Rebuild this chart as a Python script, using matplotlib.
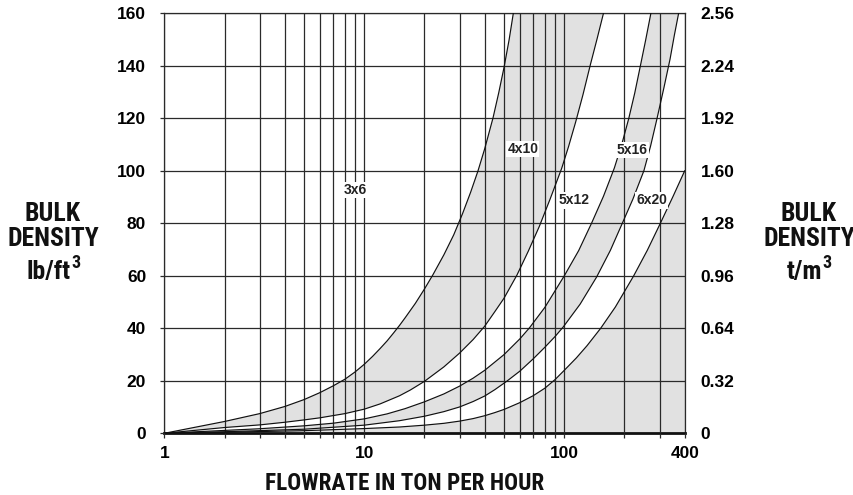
import matplotlib
matplotlib.use("Agg")
import matplotlib.pyplot as plt
import matplotlib.font_manager as fm
from matplotlib.ticker import FixedLocator, NullFormatter

# ---------------- data ----------------
c36_x = [1, 2, 3, 4, 5, 6, 7, 8, 9, 10, 11, 12, 13, 14, 15, 16, 18, 20, 22, 25,
         28, 31, 34, 37, 40, 44, 47, 50, 53, 55.6]
c36_y = [0, 4.5, 7.5, 10.2, 12.85, 15.5, 18.1, 20.6, 23.4, 26.3, 29.3, 32.3, 35.2,
         38.2, 41.1, 44, 49.5, 55, 60.3, 68, 75.6, 83.7, 91.8, 99.9, 108.4, 120.1,
         129.7, 139.5, 150, 160]

c410_x = [1, 2, 3, 4, 5, 6, 8, 10, 12, 15, 17, 20, 25, 30, 35, 40, 45, 50, 58, 66,
          75, 85, 97, 105, 114, 124, 135, 146, 157]
c410_y = [0, 2.2, 3.2, 4.2, 5.1, 5.9, 7.5, 9.2, 11.2, 14.3, 16.5, 19.8, 25.3, 30.6,
          35.7, 40.8, 46.4, 51.5, 60.3, 69.3, 78.8, 89.3, 100.9, 109.2, 118.6, 129,
          140.4, 150.4, 160]

c512_x = [1, 2, 3, 5, 7, 10, 13, 16, 20, 25, 30, 35, 40, 50, 60, 67, 80, 100, 118,
          137, 157, 178, 194, 210, 225, 240, 255, 271]
c512_y = [0, 1.1, 1.74, 2.85, 3.85, 5.5, 7.4, 9.4, 12, 15, 18, 21, 24, 30, 36, 40.2,
          48, 60, 69.6, 80.1, 90.3, 101.1, 110.2, 119.9, 129.6, 139.9, 149.7, 160]

c516_x = [1, 2, 5, 10, 15, 20, 25, 30, 35, 40, 45, 51.5, 60, 70, 80, 90, 99, 120,
          145, 170, 195, 220, 250, 270, 290, 315, 338, 355, 373]
c516_y = [0, 0.6, 1.55, 3.1, 4.8, 6.5, 8.25, 10.05, 12.1, 14.2, 16.65, 19.8, 23.7,
          28.4, 32.8, 36.9, 40.6, 49.2, 59.5, 69.7, 80, 89.1, 100, 109.4, 119.5,
          131.7, 142.6, 151.6, 160]

c620_x = [1, 2, 5, 10, 15, 20, 25, 30, 35, 40, 45, 50, 60, 70, 80, 90, 100, 115,
          130, 152, 180, 222, 260, 300, 350, 400]
c620_y = [0, 0.4, 1, 1.8, 2.4, 3.1, 3.8, 4.65, 5.6, 6.7, 7.9, 9.1, 11.7, 14.35, 17.2,
          20.5, 24, 28.75, 33.4, 40, 48.1, 59.9, 69.7, 79.5, 90.3, 100]

curve_names = ["3x6", "4x10", "5x12", "5x16", "6x20"]
label_x = [9.04, 62.0, 111.8, 218.0, 273.5]
label_y = [92.7, 108.3, 88.7, 107.9, 88.7]

x_major_ticks = [1, 10, 100, 400]
x_major_labels = ["1", "10", "100", "400"]
x_minor_ticks = [2, 3, 4, 5, 6, 7, 8, 9, 20, 30, 40, 50, 60, 70, 80, 90, 200, 300]
y_ticks = [0, 20, 40, 60, 80, 100, 120, 140, 160]
y_right_ticks = [0, 0.32, 0.64, 0.96, 1.28, 1.60, 1.92, 2.24, 2.56]
y_right_labels = ["0", "0.32", "0.64", "0.96", "1.28", "1.60", "1.92", "2.24", "2.56"]

x_min, x_max = 1, 400
y_min, y_max = 0, 160

# ---------------- font selection (condensed bold if available) ----------------
def find_condensed_bold():
    cands = []
    for f in fm.fontManager.ttflist:
        nm = f.name.lower()
        fn = f.fname.lower()
        st = str(f.stretch).lower()
        is_narrow = ("narrow" in nm or "condensed" in nm or "condensed" in st
                     or "narrow" in fn or "condensed" in fn)
        is_bold = (f.weight in ("bold", 700, "700") or "bold" in fn)
        if is_narrow and is_bold and "semi" not in fn and "extra" not in fn \
                and "italic" not in fn and "oblique" not in fn and "mono" not in nm:
            pri = 0
            for i, key in enumerate(["liberationsansnarrow", "liberation sans narrow",
                                     "arial", "roboto", "dejavu", "noto", "open"]):
                if key in fn.replace("-", "") or key in nm:
                    pri = 10 - i
                    break
            cands.append((pri, f.fname))
    if cands:
        cands.sort(reverse=True)
        return cands[0][1]
    return None

narrow_path = find_condensed_bold()
if narrow_path:
    TITLE_FP = dict(fontproperties=fm.FontProperties(fname=narrow_path))
    side_size, bottom_size, sup_size = 18.5, 16.7, 13
else:
    TITLE_FP = dict(family=["Liberation Sans", "DejaVu Sans"], weight="bold")
    side_size, bottom_size, sup_size = 15.4, 13.8, 11

# ---------------- figure ----------------
W, H = 854, 495
fig = plt.figure(figsize=(W / 100, H / 100), dpi=100)
ax = fig.add_axes([164.3 / W, (H - 433.3) / H, 520.4 / W, 420 / H])

FILL = "#e1e1e1"
GRID = "#2a2a2a"
TICKFONT = dict(family=["Liberation Sans", "DejaVu Sans"], weight="bold", size=12.5)

ax.set_xscale("log")
ax.set_xlim(x_min, x_max)
ax.set_ylim(y_min, y_max)

# shaded bands
ax.fill(c36_x + c410_x[::-1], c36_y + c410_y[::-1], color=FILL, lw=0, zorder=1)
ax.fill(c512_x + c516_x[::-1], c512_y + c516_y[::-1], color=FILL, lw=0, zorder=1)
ax.fill(c620_x + [x_max], c620_y + [y_min], color=FILL, lw=0, zorder=1)

# grid / ticks
ax.xaxis.set_major_locator(FixedLocator(x_major_ticks))
ax.xaxis.set_minor_locator(FixedLocator(x_minor_ticks))
ax.xaxis.set_minor_formatter(NullFormatter())
ax.set_xticklabels(x_major_labels, **TICKFONT)
ax.yaxis.set_major_locator(FixedLocator(y_ticks))
ax.set_yticklabels([str(v) for v in y_ticks], **TICKFONT)
ax.grid(True, which="both", axis="both", color=GRID, lw=0.9, zorder=2)
ax.set_axisbelow(False)

ax.tick_params(axis="x", which="both", direction="out", length=3.5, width=0.9,
               color=GRID, pad=6)
ax.tick_params(axis="y", which="both", direction="out", length=3, width=0.9,
               color=GRID, pad=10)
for s in ["left", "right", "top"]:
    ax.spines[s].set_color(GRID)
    ax.spines[s].set_linewidth(0.9)
ax.spines["bottom"].set_color("#111111")
ax.spines["bottom"].set_linewidth(2.0)

# curves
for cx, cy in [(c36_x, c36_y), (c410_x, c410_y), (c512_x, c512_y),
               (c516_x, c516_y), (c620_x, c620_y)]:
    ax.plot(cx, cy, color="#111111", lw=0.85, zorder=3, solid_joinstyle="round")

# curve labels
for name, lx, ly in zip(curve_names, label_x, label_y):
    ax.text(lx, ly, name, ha="center", va="center", zorder=5,
            family=["Liberation Sans", "DejaVu Sans"], weight="bold", size=10,
            color="#222222",
            bbox=dict(boxstyle="square,pad=0.08", fc="white", ec="none"))

# right axis
ax2 = ax.twinx()
ax2.set_ylim(0, 2.56)
ax2.yaxis.set_major_locator(FixedLocator(y_right_ticks))
ax2.set_yticklabels(y_right_labels, **TICKFONT)
ax2.tick_params(axis="y", length=0, pad=11.5)
for s in ax2.spines.values():
    s.set_visible(False)

# axis titles
def ftxt(x, yb, s, size, ha="center"):
    fig.text(x / W, 1 - yb / H, s, ha=ha, va="baseline", size=size,
             color="#111111", **TITLE_FP)

ftxt(53, 220.7, "BULK", side_size)
ftxt(53, 246.5, "DENSITY", side_size)
ftxt(71, 279, "lb/ft", side_size, ha="right")
ftxt(71.5, 268, "3", sup_size, ha="left")
ftxt(809, 220.7, "BULK", side_size)
ftxt(809, 246.5, "DENSITY", side_size)
ftxt(822, 279, "t/m", side_size, ha="right")
ftxt(822.5, 268, "3", sup_size, ha="left")
ftxt(405, 490.5, "FLOWRATE IN TON PER HOUR", bottom_size)

fig.savefig("out.png", dpi=100)
